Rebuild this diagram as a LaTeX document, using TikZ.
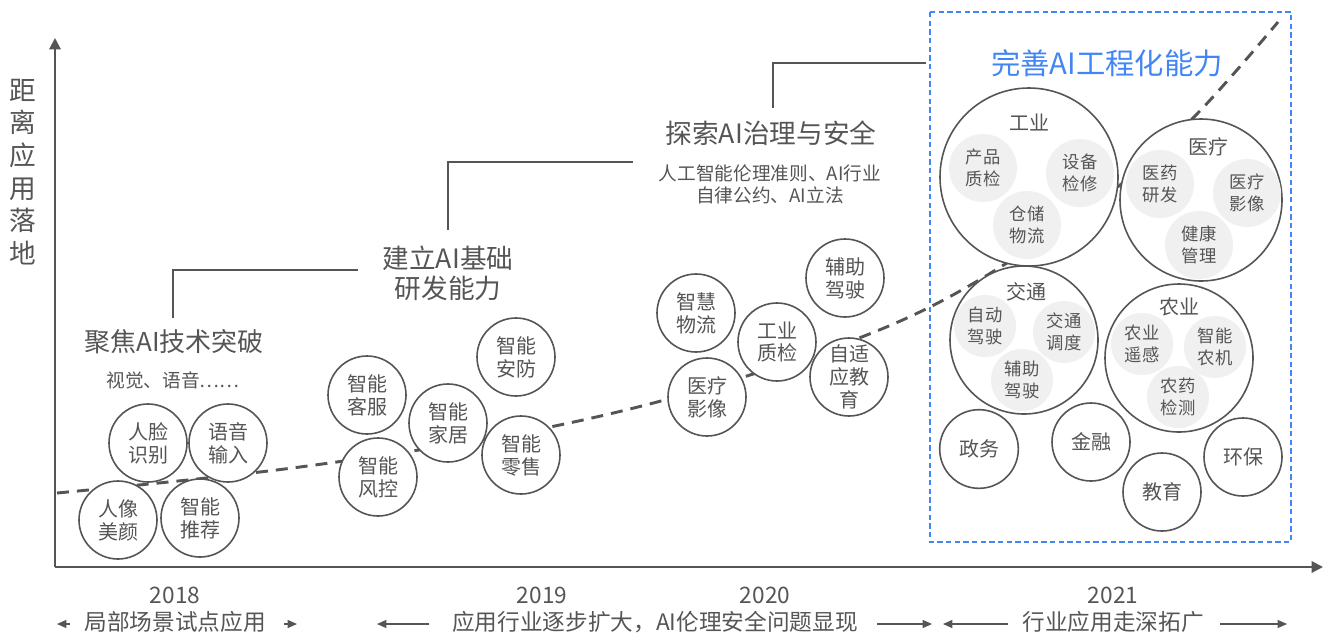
\documentclass[tikz,border=0pt]{standalone}
\usepackage{fontspec}
\setmainfont{Noto Sans CJK SC}
\usetikzlibrary{arrows.meta}
\definecolor{txt}{HTML}{555555}
\definecolor{aiblue}{HTML}{4285F4}
\definecolor{inner}{HTML}{F0F0F0}

\begin{document}
\begin{tikzpicture}[x=0.75pt, y=-0.75pt,
  bub/.style={draw=txt, circle, line width=1.2pt, fill=white, minimum size=58.5pt, inner sep=0pt, align=center, text=txt, font=\fontsize{15}{17.2}\selectfont},
  big/.style={draw=txt, circle, line width=1.2pt, fill=white, inner sep=0pt},
  sub/.style={circle, fill=inner, inner sep=0pt, align=center, text=txt, font=\fontsize{13}{16.5}\selectfont},
  lbl/.style={text=txt, inner sep=0pt, align=center},
  axis/.style={draw=txt, line width=1.5pt, -{Triangle[length=8.5pt, width=8.5pt]}},
  stepline/.style={draw=txt, line width=2pt},
  span/.style={draw=txt, line width=0.8pt, -{Triangle[length=7pt, width=6pt]}}]
\useasboundingbox (0,0) rectangle (1324,633);

\coordinate (o) at (55,567);
\coordinate (ytop) at (55,38);
\coordinate (xend) at (1323,567);
\draw[axis] (o) -- (ytop);
\draw[axis] (o) -- (xend);

\node[lbl, font=\fontsize{20}{24.5}\selectfont] (ylab) at (23,172) {距\\离\\应\\用\\落\\地};

\draw[stepline] (173,318) -- (173,270) -- (358,270);
\draw[stepline] (448,230) -- (448,162) -- (633,162);
\draw[stepline] (773,108) -- (773,63) -- (926,63);

\draw[aiblue, line width=1.1pt, dash pattern=on 4pt off 2.5pt] (930,12) rectangle (1291,542);

\draw[txt, line width=2.2pt, dash pattern=on 9pt off 6pt] plot[smooth, tension=0.6] coordinates
  {(57,493) (300,467) (550,427) (750,375) (930,307) (1100,200) (1193,118) (1278,22)};

\node[lbl, font=\fontsize{19.5}{24}\selectfont] (t1) at (174,342) {聚焦AI技术突破};
\node[lbl, font=\fontsize{14}{16.5}\selectfont] (t1s) at (173,380) {视觉、语音……};
\node[lbl, font=\fontsize{20}{22.5}\selectfont] (t2) at (448,273) {建立AI基础\\研发能力};
\node[lbl, font=\fontsize{20}{24}\selectfont] (t3) at (771,133) {探索AI治理与安全};
\node[lbl, font=\fontsize{14}{16.5}\selectfont] (t3s) at (770,184) {人工智能伦理准则、AI行业\\自律公约、AI立法};
\node[lbl, text=aiblue, font=\fontsize{22}{26}\selectfont] (t4) at (1107,63) {完善AI工程化能力};

\node[bub] (a1) at (148,443) {人脸\\识别};
\node[bub] (a2) at (228,443) {语音\\输入};
\node[bub] (a3) at (118,520) {人像\\美颜};
\node[bub] (a4) at (200,518) {智能\\推荐};

\node[bub] (b1) at (367,395) {智能\\客服};
\node[bub] (b2) at (378,477) {智能\\风控};
\node[bub] (b3) at (448,423) {智能\\家居};
\node[bub] (b4) at (516,357) {智能\\安防};
\node[bub] (b5) at (521,455) {智能\\零售};

\node[bub] (c1) at (696,313) {智慧\\物流};
\node[bub] (c2) at (845,278) {辅助\\驾驶};
\node[bub] (c3) at (777,342) {工业\\质检};
\node[bub] (c4) at (707,397) {医疗\\影像};
\node[bub] (c5) at (849,377) {自适\\应教\\育};

\node[big, minimum size=133.5pt] (gy) at (1029,177) {};
\node[lbl, font=\fontsize{15}{17}\selectfont] (gyt) at (1029,122) {工业};
\node[sub, minimum size=51pt] (gy1) at (983,168) {产品\\质检};
\node[sub, minimum size=51pt] (gy2) at (1080,173) {设备\\检修};
\node[sub, minimum size=51pt] (gy3) at (1027,225) {仓储\\物流};

\node[big, minimum size=121.5pt] (yl) at (1201,200) {};
\node[lbl, font=\fontsize{15}{17}\selectfont] (ylt) at (1208,147) {医疗};
\node[sub, minimum size=51pt] (yl1) at (1160,184) {医药\\研发};
\node[sub, minimum size=51pt] (yl2) at (1247,193) {医疗\\影像};
\node[sub, minimum size=51pt] (yl3) at (1199,245) {健康\\管理};

\node[big, minimum size=111pt] (jt) at (1024,340) {};
\node[lbl, font=\fontsize{15}{17}\selectfont] (jtt) at (1026,292) {交通};
\node[sub, minimum size=46.5pt] (jt1) at (985,326) {自动\\驾驶};
\node[sub, minimum size=46.5pt] (jt2) at (1064,332) {交通\\调度};
\node[sub, minimum size=46.5pt] (jt3) at (1022,380) {辅助\\驾驶};

\node[big, minimum size=111pt] (ny) at (1179,358) {};
\node[lbl, font=\fontsize{15}{17}\selectfont] (nyt) at (1179,307) {农业};
\node[sub, minimum size=46.5pt] (ny1) at (1142,344) {农业\\遥感};
\node[sub, minimum size=46.5pt] (ny2) at (1215,347) {智能\\农机};
\node[sub, minimum size=46.5pt] (ny3) at (1178,397) {农药\\检测};

\node[bub, minimum size=59pt] (d1) at (979,449) {政务};
\node[bub] (d2) at (1091,442) {金融};
\node[bub] (d3) at (1162,492) {教育};
\node[bub] (d4) at (1243,457) {环保};

\node[lbl, font=\fontsize{17}{20}\selectfont] (y1) at (175,595) {2018};
\node[lbl, font=\fontsize{17}{20}\selectfont] (y2) at (542,595) {2019};
\node[lbl, font=\fontsize{17}{20}\selectfont] (y3) at (765,595) {2020};
\node[lbl, font=\fontsize{17}{20}\selectfont] (y4) at (1113,595) {2021};
\node[lbl, font=\fontsize{17}{20}\selectfont] (p1) at (175,622) {局部场景试点应用};
\node[lbl, font=\fontsize{17}{20}\selectfont] (p2) at (655,622) {应用行业逐步扩大，AI伦理安全问题显现};
\node[lbl, font=\fontsize{17}{20}\selectfont] (p3) at (1113,622) {行业应用走深拓广};

\coordinate (p1l) at (70,624);
\coordinate (p1lt) at (57,624);
\coordinate (p1r) at (284,624);
\coordinate (p1rt) at (297,624);
\coordinate (p2l) at (429,624);
\coordinate (p2lt) at (377,624);
\coordinate (p2r) at (877,624);
\coordinate (p2rt) at (932,624);
\coordinate (p3l) at (1008,624);
\coordinate (p3lt) at (943,624);
\coordinate (p3r) at (1220,624);
\coordinate (p3rt) at (1287,624);
\draw[span] (p1l) -- (p1lt);
\draw[span] (p1r) -- (p1rt);
\draw[span] (p2l) -- (p2lt);
\draw[span] (p2r) -- (p2rt);
\draw[span] (p3l) -- (p3lt);
\draw[span] (p3r) -- (p3rt);

\end{tikzpicture}
\end{document}
